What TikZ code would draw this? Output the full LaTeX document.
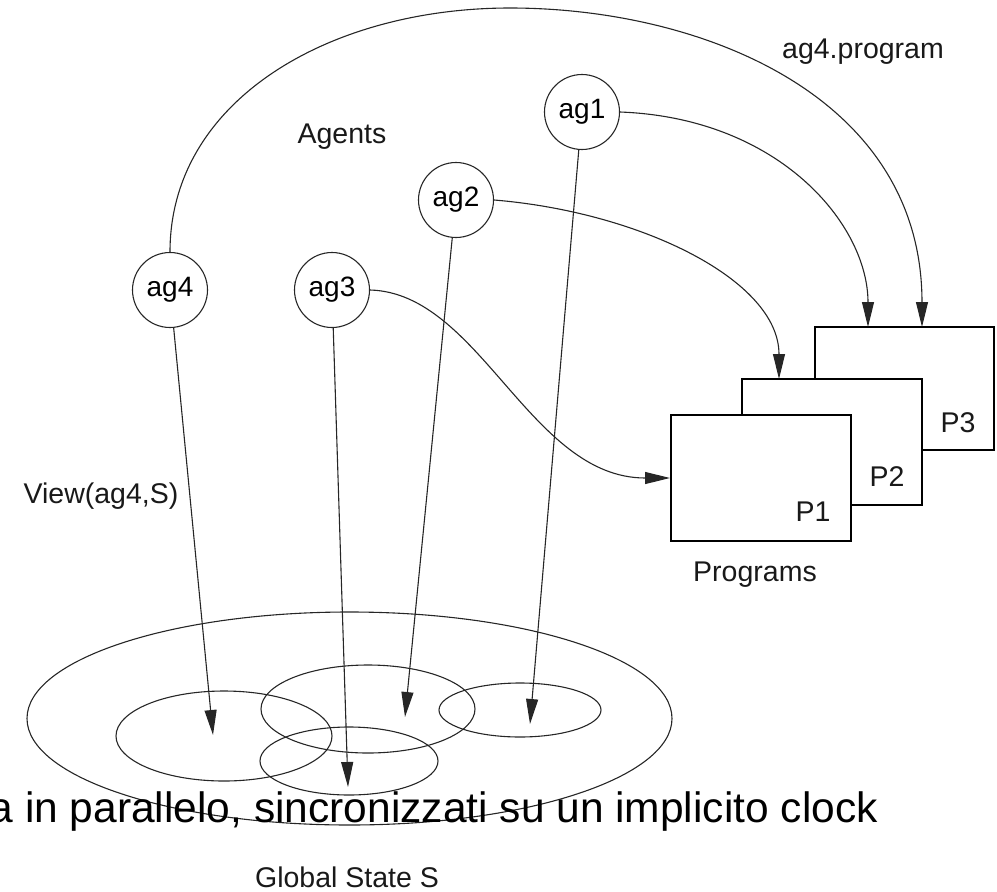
\documentclass[tikz,border=0pt]{standalone}
\usepackage{fontspec}
\setmainfont{Liberation Sans}
\usetikzlibrary{arrows.meta}
\begin{document}
\begin{tikzpicture}[x=1pt,y=-1pt,
  line/.style={draw=black!85, line width=1.1pt},
  agent/.style={circle, draw=black!85, line width=1.1pt, minimum size=75pt,
    inner sep=0pt, font=\fontsize{28}{34}\selectfont},
  lbl/.style={font=\fontsize{28.5}{34}\selectfont, inner sep=0pt, text=black!90},
  prog/.style={draw=black, line width=2pt, fill=white, inner sep=0pt},
  arr/.style={line, -{Triangle[length=25pt,width=12pt]}},
]
\useasboundingbox (0,0) rectangle (997,892);

% global state and the agents' views
\draw[line] (349.5,718.5) ellipse [x radius=322.5, y radius=106.5];
\draw[line] (224,736) ellipse [x radius=108, y radius=45];
\draw[line] (368,709) ellipse [x radius=107, y radius=44];
\draw[line] (520,710) ellipse [x radius=81, y radius=27];
\draw[line] (349,761) ellipse [x radius=89, y radius=34];

% agents
\node[agent] (ag1) at (582,112) {ag1};
\node[agent] (ag2) at (456,200) {ag2};
\node[agent] (ag3) at (332,290) {ag3};
\node[agent] (ag4) at (170,290) {ag4};

% programs
\node[prog, minimum width=179pt, minimum height=123pt] (P3) at (904.5,388.5) {};
\node[prog, minimum width=180pt, minimum height=126pt] (P2) at (832,442) {};
\node[prog, minimum width=180pt, minimum height=126pt] (P1) at (761,478) {};
\node[lbl] (l3) at (958,423) {P3};
\node[lbl] (l2) at (887,477) {P2};
\node[lbl] (l1) at (813,512) {P1};

% arrow ends
\coordinate (v1) at (530,724);
\coordinate (v2) at (405,717);
\coordinate (v3) at (348,787);
\coordinate (v4) at (213,735);
\coordinate (p1in) at (P1.west);
\coordinate (p2in) at (779,379);
\coordinate (p3a) at (868,327);
\coordinate (p3b) at (922,327);

% agents to their views of the state
\draw[arr] (ag1) -- (v1);
\draw[arr] (ag2) -- (v2);
\draw[arr] (ag3) -- (v3);
\draw[arr] (ag4) -- (v4);

% agents to their programs
\draw[arr] (ag1.east) .. controls (780,118) and (868,225) .. (p3a);
\draw[arr] (ag2.east) .. controls (640,212) and (779,280) .. (p2in);
\draw[arr] (ag3.east) .. controls (480,293) and (530,478) .. (p1in);
\draw[arr] (ag4.north) .. controls (170,100) and (330,8) .. (510,8)
  .. controls (700,8) and (922,95) .. (p3b);

% labels
\node[lbl] (agents) at (342,137) {Agents};
\node[lbl] (prg) at (863,52) {ag4.program};
\node[lbl] (view) at (101,496) {View(ag4,S)};
\node[lbl] (programs) at (755,575) {Programs};
\node[lbl] (gstate) at (347,877) {Global State S};
\node[anchor=base east, inner sep=0pt, font=\fontsize{42.5}{50}\selectfont]
  (caption) at (878,822) {a in parallelo, sincronizzati su un implicito clock};
\end{tikzpicture}
\end{document}
